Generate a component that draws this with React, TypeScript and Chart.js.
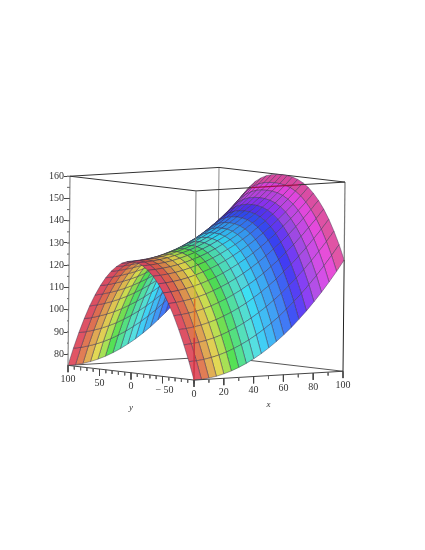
import React, { useEffect, useRef } from "react";
import { Chart, registerables } from "chart.js";

Chart.register(...registerables);

// Surface: height along the ridge (y = 0) and along the side edges (y = +-100), per x line
const xLines = [0, 5, 10, 15, 20, 25, 30, 35, 40, 45, 50, 55, 60, 65, 70, 75, 80, 85, 90, 95, 100];
const yLines = [-100, -91.7, -83.3, -75, -66.7, -58.3, -50, -41.7, -33.3, -25, -16.7, -8.3, 0, 8.3, 16.7, 25, 33.3, 41.7, 50, 58.3, 66.7, 75, 83.3, 91.7, 100];
const ridgeZ = [125, 125.1, 125.4, 125.8, 126.4, 127.2, 128.2, 129.3, 130.6, 132.1, 133.8, 135.6, 137.6, 139.8, 142.2, 144.7, 147.4, 150.3, 153.4, 156.6, 160];
const edgeZ = [75, 75.1, 75.5, 76.1, 77, 78.1, 79.5, 81.1, 83, 85.1, 87.5, 90.1, 93, 96.1, 99.5, 103.1, 107, 111.1, 115.5, 120.1, 125];
// Share of the drop from ridge to edge at each y line, for the near (x = 0) and far (x = 100) arches
const archNear = [1, 0.84, 0.694, 0.563, 0.444, 0.34, 0.25, 0.174, 0.111, 0.063, 0.028, 0.007, 0, 0.007, 0.028, 0.063, 0.111, 0.174, 0.25, 0.34, 0.444, 0.563, 0.694, 0.84, 1];
const archFar = [1, 0.811, 0.646, 0.501, 0.378, 0.274, 0.19, 0.122, 0.072, 0.036, 0.014, 0.003, 0, 0.003, 0.014, 0.036, 0.072, 0.122, 0.19, 0.274, 0.378, 0.501, 0.646, 0.811, 1];

// Axes
const zMajorTicks = [80, 90, 100, 110, 120, 130, 140, 150, 160];
const zMinorTicks = [75, 85, 95, 105, 115, 125, 135, 145, 155];
const yMajorTicks = [100, 50, 0, -50];
const yMinorTicks = [90, 80, 70, 60, 40, 30, 20, 10, -10, -20, -30, -40, -60, -70, -80, -90, -100];
const xMajorTicks = [0, 20, 40, 60, 80, 100];
const xMinorTicks = [10, 30, 50, 70, 90];
const zBottom = 75;
const zTop = 160;

// Colour ramp over x
const hueX = [0, 3, 8, 12, 17, 22, 27, 31, 36, 45, 54, 64, 72, 82, 92, 100];
const hueDeg = [345, 355, 380, 397, 415, 445, 480, 500, 525, 550, 565, 585, 610, 640, 665, 695];

const PX_PER_Z = 2.275;

function project(x: number, y: number, z: number) {
  return {
    x: 194 + 1.49 * x - 0.63 * (y + 100) + ((z - zBottom) * 2) / 85,
    y: z + (0.09 * x + 0.075 * (y + 100) - 15) / PX_PER_Z,
  };
}

function surfaceZ(i: number, j: number) {
  const f = xLines[i] / 100;
  const share = archNear[j] * (1 - f) + archFar[j] * f;
  return ridgeZ[i] - (ridgeZ[i] - edgeZ[i]) * share;
}

function colourAt(x: number, y: number) {
  const u = x - 8 * (1 - (y / 100) ** 2) * ((x * (100 - x)) / 2500);
  let k = 0;
  while (k < hueX.length - 2 && u > hueX[k + 1]) k++;
  const t = (u - hueX[k]) / (hueX[k + 1] - hueX[k]);
  const h = (hueDeg[k] + t * (hueDeg[k + 1] - hueDeg[k])) % 360;
  const l = 61 - 6 * (1 - Math.abs(y) / 100);
  const base = h > 185 && h < 270 ? 90 : h >= 270 && h < 320 ? 76 : 70;
  const s = base - 8 * (1 - Math.abs(y) / 100);
  return `hsl(${h.toFixed(0)}, ${s.toFixed(0)}%, ${l.toFixed(1)}%)`;
}

function seg(points: { x: number; y: number }[], color: string, width = 1) {
  return {
    data: points,
    showLine: true,
    borderColor: color,
    borderWidth: width,
    pointRadius: 0,
    fill: false,
    clip: false,
  };
}

function tickMarks(list: number[], at: (v: number) => { x: number; y: number }, len: number) {
  const pts: { x: number; y: number }[] = [];
  list.forEach((v) => {
    const p = at(v);
    pts.push(p, { x: p.x, y: p.y - len / PX_PER_Z }, { x: NaN, y: NaN });
  });
  return pts;
}

function buildDatasets() {
  const layers: any[] = [];
  const c = (x: number, y: number, z: number) => project(x, y, z);

  // Box edges behind the surface
  layers.push(seg([c(0, 100, zBottom), c(100, 100, zBottom), c(100, -100, zBottom)], "#555"));
  layers.push(seg([c(100, 100, zBottom), c(100, 100, zTop)], "#888"));
  layers.push(seg([c(0, 100, zTop), c(100, 100, zTop), c(100, -100, zTop)], "#333"));

  // Surface cells, far ones first
  const cells: { depth: number; ds: any }[] = [];
  for (let i = 0; i < xLines.length - 1; i++) {
    for (let j = 0; j < yLines.length - 1; j++) {
      const corners = [
        [i, j],
        [i + 1, j],
        [i + 1, j + 1],
        [i, j + 1],
        [i, j],
      ];
      const pts = corners.map(([a, b]) => project(xLines[a], yLines[b], surfaceZ(a, b)));
      const mx = (xLines[i] + xLines[i + 1]) / 2;
      const my = (yLines[j] + yLines[j + 1]) / 2;
      const mz = (surfaceZ(i, j) + surfaceZ(i + 1, j + 1)) / 2;
      cells.push({
        depth: mx + 2.36 * my - 0.117 * mz,
        ds: {
          data: pts,
          showLine: true,
          fill: "shape",
          backgroundColor: colourAt(mx, my),
          borderColor: "rgba(55,45,75,0.55)",
          borderWidth: 0.8,
          pointRadius: 0,
        },
      });
    }
  }
  cells.sort((a, b) => b.depth - a.depth);
  cells.forEach((cell) => layers.push(cell.ds));

  // Box edges in front of the surface
  layers.push(seg([c(0, -100, zBottom), c(0, 100, zBottom)], "#444"));
  layers.push(seg([c(0, -100, zBottom), c(100, -100, zBottom)], "#444"));
  layers.push(seg([c(0, 100, zBottom), c(0, 100, zTop)], "#888", 1.2));
  layers.push(seg([c(100, -100, zBottom), c(100, -100, 125)], "#222"));
  layers.push(seg([c(100, -100, 125), c(100, -100, zTop)], "#777", 1.2));
  layers.push(seg([c(0, 100, zTop), c(0, -100, zTop)], "#333"));
  layers.push(seg([c(0, -100, zTop), c(37, -100, zTop)], "#333"));
  layers.push(seg([c(37, -100, zTop), c(68.5, -100, zTop)], "#a01048", 1.2));
  layers.push(seg([c(68.5, -100, zTop), c(100, -100, zTop)], "#333"));

  // Front vertical edge, tinted where it passes over the surface
  layers.push(seg([c(0, -100, zTop), c(0, -100, 133.5)], "#777"));
  layers.push(seg([c(0, -100, 133.5), c(0, -100, 122.5)], "#3caa3c", 1.2));
  layers.push(seg([c(0, -100, 122.5), c(0, -100, 111.5)], "#bebe28", 1.2));
  layers.push(seg([c(0, -100, 111.5), c(0, -100, 94)], "#dc6e28", 1.2));
  layers.push(seg([c(0, -100, 94), c(0, -100, zBottom)], "#c83240", 1.2));

  // Tick marks
  layers.push(seg(tickMarks(yMajorTicks, (v) => c(0, v, zBottom), 7), "#444"));
  layers.push(seg(tickMarks(yMinorTicks, (v) => c(0, v, zBottom), 3.5), "#666"));
  layers.push(seg(tickMarks(xMajorTicks, (v) => c(v, -100, zBottom), 7), "#444"));
  layers.push(seg(tickMarks(xMinorTicks, (v) => c(v, -100, zBottom), 3.5), "#666"));

  const zStub = (list: number[], from: number) => {
    const pts: { x: number; y: number }[] = [];
    list.forEach((v) => {
      const yPos = c(0, 100, v);
      pts.push({ x: from, y: v }, { x: yPos.x, y: v }, { x: NaN, y: NaN });
    });
    return pts;
  };
  layers.push(seg(zStub(zMajorTicks, 67), "#444"));
  layers.push(seg(zStub(zMinorTicks, 67), "#666"));

  layers.forEach((d, idx) => {
    d.order = layers.length - idx;
  });
  return layers;
}

const axisText = {
  id: "axisText",
  afterDraw(chart: any) {
    const ctx = chart.ctx;
    const sx = chart.scales.x;
    const sy = chart.scales.y;
    const put = (label: string, p: { x: number; y: number }, dx: number, dy: number, font: string) => {
      ctx.font = font;
      ctx.fillText(label, sx.getPixelForValue(p.x) + dx, sy.getPixelForValue(p.y) + dy);
    };
    ctx.save();
    ctx.fillStyle = "#333";
    ctx.textAlign = "center";
    ctx.textBaseline = "middle";
    const f = "10px 'Liberation Serif'";
    yMajorTicks.forEach((v) => {
      const text = v < 0 ? "\u2212 " + Math.abs(v) : String(v);
      put(text, project(0, v, zBottom), v < 0 ? 2 : 0, 14, f);
    });
    xMajorTicks.forEach((v) => put(String(v), project(v, -100, zBottom), 0, 14, f));
    const t = "italic 9px 'Liberation Serif'";
    put("y", project(0, 0, zBottom), 0, 34.5, t);
    put("x", project(50, -100, zBottom), 0, 28.5, t);
    ctx.restore();
  },
};

export default function App() {
  const ref = useRef<HTMLCanvasElement>(null);
  useEffect(() => {
    const chart = new Chart(ref.current as HTMLCanvasElement, {
      type: "scatter",
      data: { datasets: buildDatasets() },
      plugins: [axisText],
      options: {
        animation: false,
        responsive: false,
        devicePixelRatio: 1,
        events: [],
        layout: { padding: 0 },
        plugins: { legend: { display: false }, tooltip: { enabled: false } },
        scales: {
          x: { type: "linear", display: false, min: 67, max: 425 },
          y: {
            type: "linear",
            min: 75 - (550 - 367.4) / PX_PER_Z,
            max: 75 + 367.4 / PX_PER_Z,
            afterFit: (s: any) => {
              s.width = 67;
            },
            afterBuildTicks: (s: any) => {
              s.ticks = zMajorTicks.map((value) => ({ value }));
            },
            border: { display: false },
            grid: { drawOnChartArea: false, drawTicks: true, tickLength: 3, color: "#444" },
            ticks: {
              autoSkip: false,
              padding: 0,
              color: "#333",
              font: { family: "'Liberation Serif'", size: 10 },
              callback: (v: any) => String(v),
            },
          },
        },
      } as any,
    } as any);
    return () => chart.destroy();
  }, []);
  return (
    <canvas
      ref={ref}
      width={425}
      height={550}
      style={{ position: "absolute", left: 0, top: 0, width: 425, height: 550, display: "block", filter: "blur(0.5px)" }}
    />
  );
}
